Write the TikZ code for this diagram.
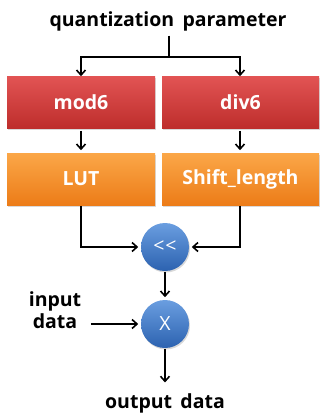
\documentclass[tikz,border=0pt]{standalone}
\usepackage{fontspec}
\setmainfont{Open Sans}
\usetikzlibrary{arrows.meta,shadows}

\definecolor{redtop}{HTML}{E25454}
\definecolor{redbot}{HTML}{BE2E2C}
\definecolor{orgtop}{HTML}{FBA748}
\definecolor{orgbot}{HTML}{EC7C18}
\definecolor{bluetop}{HTML}{6A9EE0}
\definecolor{bluebot}{HTML}{2C62B0}

\begin{document}
\begin{tikzpicture}[x=1pt, y=-1pt,
    line width=1.6pt, >={Straight Barb[length=5pt,width=9pt]},
    lbl/.style={font=\fontsize{19.5}{22}\selectfont\bfseries, inner sep=0pt},
    blk/.style={minimum width=148pt, minimum height=52pt, inner sep=0pt,
      font=\fontsize{19.5}{22}\selectfont\bfseries, text=white,
      drop shadow={opacity=0.3, shadow xshift=1pt, shadow yshift=-1.5pt}},
    redbox/.style={blk, top color=redtop, bottom color=redbot},
    orgbox/.style={blk, top color=orgtop, bottom color=orgbot},
    wide/.style={minimum width=157pt},
    op/.style={circle, minimum size=48pt, inner sep=0pt, text=white,
      font=\fontsize{19.5}{22}\selectfont, top color=bluetop, bottom color=bluebot,
      drop shadow={opacity=0.3, shadow xshift=1pt, shadow yshift=-1.5pt}}]
    \useasboundingbox (0,0) rectangle (320,413);

    \node[lbl] (qp) at (168,21) {quantization\, parameter};
    \node[redbox] (mod) at (81,102) {mod6};
    \node[redbox, wide] (div) at (240.5,102) {div6};
    \node[orgbox] (lut) at (81,179) {LUT};
    \node[orgbox, wide] (shift) at (240.5,179) {Shift\_length};
    \node[op] (shl) at (165,247) {{<}\kern1pt{<}};
    \node[op] (mul) at (165,324) {X};
    \node[lbl, align=center] (in) at (55,310) {input\\data};
    \node[lbl] (out) at (165,403) {output\, data};
    \coordinate (split) at (169,57);

    % qp splits to both blocks
    \draw[shorten <=4pt] (qp.south -| split) -- (split);
    \draw[->] (split) -| ([yshift=-1pt]mod.north);
    \draw[->] (split) -| ([yshift=-1pt,xshift=-0.5pt]div.north);
    \draw[->, shorten <=2pt, shorten >=2pt] (mod) -- (lut);
    \draw[->, shorten <=2pt, shorten >=2pt] ([xshift=-0.5pt]div.south) -- ([xshift=-0.5pt]shift.north);
    \draw[->, shorten >=2pt] (lut.south) |- (shl.west);
    \draw[->, shorten >=2pt] ([xshift=-0.5pt]shift.south) |- (shl.east);
    \draw[->, shorten >=2pt] (shl) -- (mul);
    \draw[->, shorten <=9pt, shorten >=2pt] (in.east |- mul.west) -- (mul.west);
    \draw[->, shorten >=10pt] (mul.south) -- (out.north);
\end{tikzpicture}
\end{document}
